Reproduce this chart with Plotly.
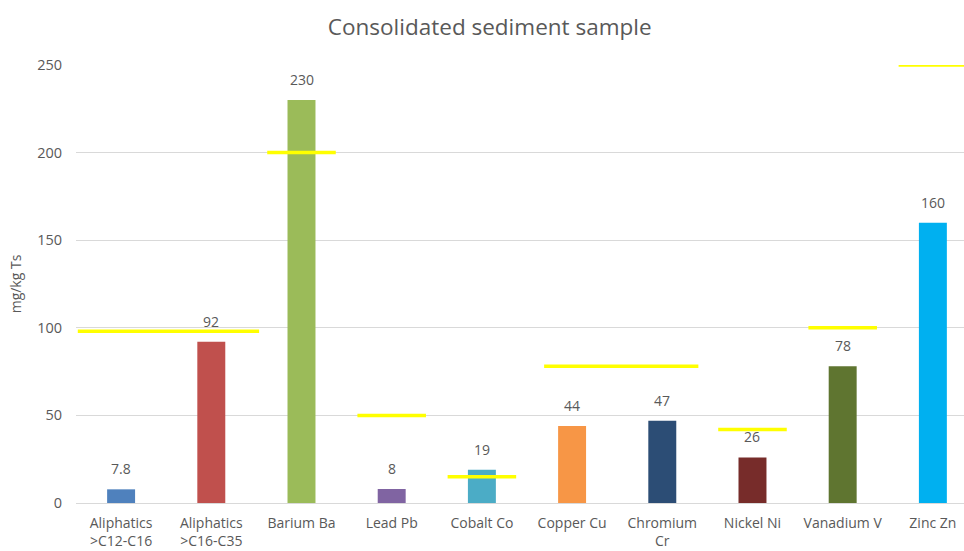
import plotly.graph_objects as go

# Measured concentrations per analyte
categories = ["Aliphatics<br>>C12-C16", "Aliphatics<br>>C16-C35", "Barium Ba", "Lead Pb",
              "Cobalt Co", "Copper Cu", "Chromium<br>Cr", "Nickel Ni", "Vanadium V", "Zinc Zn"]
values = [7.8, 92, 230, 8, 19, 44, 47, 26, 78, 160]
value_labels = ["7.8", "92", "230", "8", "19", "44", "47", "26", "78", "160"]
bar_colors = ["#4F81BD", "#C0504D", "#9BBB59", "#8064A2", "#4BACC6",
              "#F79646", "#2C4D75", "#772C2A", "#5F7530", "#00B0F0"]

# Guideline limits (value, first category index, last category index)
limit_values = [98, 200, 50, 15, 78, 42, 100, 250]
limit_first = [0, 2, 3, 4, 5, 7, 8, 9]
limit_last = [1, 2, 3, 4, 6, 7, 8, 9]

x_idx = list(range(len(categories)))
text_color = "#595959"
font_family = "Open Sans, Liberation Sans, sans-serif"

fig = go.Figure()
fig.add_trace(go.Bar(
    x=x_idx, y=values, marker=dict(color=bar_colors, line=dict(width=0)),
    width=0.31, showlegend=False, hoverinfo="skip",
))

# Value labels placed above each bar
for xi, v, lab in zip(x_idx, values, value_labels):
    fig.add_annotation(
        x=xi, y=v, text=lab, showarrow=False, yanchor="bottom", yshift=9,
        font=dict(size=14, color=text_color, family=font_family),
    )

# Limit segments drawn as one broken line
lx, ly = [], []
pad = 0.38
for v, a, b in zip(limit_values, limit_first, limit_last):
    left = a - pad
    right = b + pad
    if a != b:
        left, right = a - 0.48 if a == 0 else a - 0.31, b + 0.53 if a == 0 else b + 0.40
    lx += [left, right, None]
    ly += [v, v, None]
fig.add_trace(go.Scatter(
    x=lx, y=ly, mode="lines", line=dict(color="#FFFF00", width=3.5),
    showlegend=False, hoverinfo="skip", cliponaxis=False,
))

fig.update_layout(
    width=964, height=551,
    margin=dict(l=76, r=0, t=65, b=48),
    paper_bgcolor="white", plot_bgcolor="white",
    title=dict(text="Consolidated sediment sample", x=0.508, xanchor="center",
               y=0.951, yanchor="middle",
               font=dict(size=22.5, color=text_color, family=font_family)),
    font=dict(family=font_family, color=text_color, size=14),
)
fig.update_xaxes(
    range=[-0.5, 9.345], tickmode="array", tickvals=x_idx, ticktext=categories,
    showgrid=False, showline=True, linecolor="#D9D9D9", linewidth=1,
    ticks="", tickfont=dict(size=14, color=text_color), zeroline=False,
    ticklabelstandoff=7,
)
fig.update_yaxes(
    range=[0, 250], tickvals=[0, 50, 100, 150, 200, 250],
    showgrid=True, gridcolor="#D9D9D9", gridwidth=1, zeroline=False,
    showline=False, ticks="", tickfont=dict(size=14.5, color=text_color),
    ticklabelstandoff=13,
    title=dict(text="mg/kg Ts", font=dict(size=14, color=text_color), standoff=12),
)

fig.write_html("out.html")
